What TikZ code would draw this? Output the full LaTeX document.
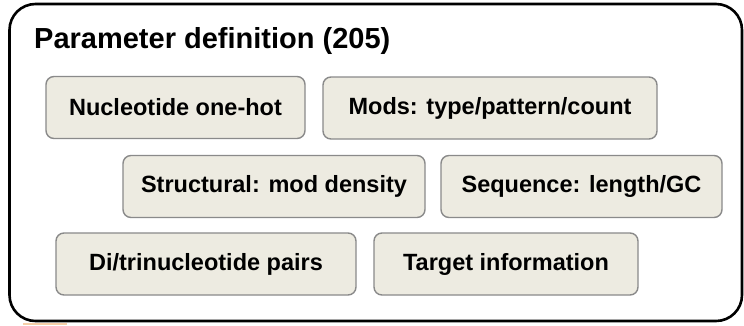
\documentclass[tikz,border=0pt]{standalone}
\usepackage{fontspec}
\setmainfont{Liberation Sans}
\definecolor{boxfill}{HTML}{EDEBE1}
\definecolor{boxline}{HTML}{8A8A8A}
\definecolor{peach}{HTML}{F7CFA8}
\begin{document}
\begin{tikzpicture}[x=1pt,y=-1pt,
  param/.style={draw=boxline, line width=1.4pt, fill=boxfill, rounded corners=8pt,
    inner sep=0pt, align=center, font=\bfseries\fontsize{23.5}{28}\selectfont}]
\useasboundingbox (0,0) rectangle (744,325);
\fill[white] (0,0) rectangle (744,325);
\fill[peach] (23,322.5) rectangle (67,325);
\draw[line width=2.6pt, rounded corners=26pt] (9.5,4) rectangle (742,321);
\node[anchor=base west, inner sep=0pt, font=\bfseries\fontsize{29}{34}\selectfont] (title) at (34,48) {Parameter definition (205)};
\node[param, minimum width=259pt, minimum height=62pt] (nuc) at (175.5,107.5) {Nucleotide one-hot};
\node[param, minimum width=334pt, minimum height=62pt] (mods) at (490,108) {Mods: type/pattern/count};
\node[param, minimum width=302pt, minimum height=62pt] (struct) at (274,186.5) {Structural: mod density};
\node[param, minimum width=281pt, minimum height=62pt] (seq) at (581.5,186.5) {Sequence: length/GC};
\node[param, minimum width=300pt, minimum height=62pt] (di) at (206,264) {Di/trinucleotide pairs};
\node[param, minimum width=264pt, minimum height=62pt] (target) at (506,264) {Target information};
\end{tikzpicture}
\end{document}
